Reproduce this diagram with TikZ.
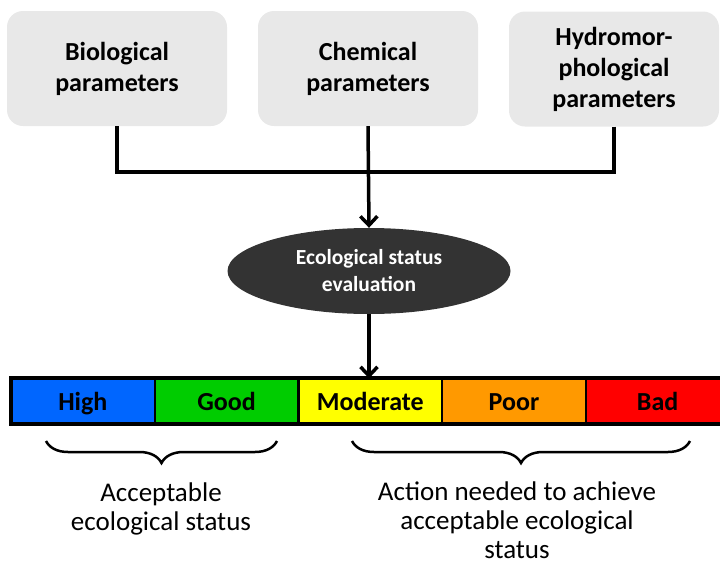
\documentclass[tikz,border=0pt]{standalone}
\usepackage{fontspec}
\setmainfont{Carlito}
\usetikzlibrary{shapes.geometric,arrows.meta,decorations.pathreplacing,positioning}
\definecolor{boxgray}{RGB}{232,232,232}
\definecolor{ellgray}{RGB}{51,51,51}
\definecolor{cHigh}{RGB}{0,102,255}
\definecolor{cGood}{RGB}{0,204,0}
\definecolor{cMod}{RGB}{255,255,0}
\definecolor{cPoor}{RGB}{255,153,0}
\definecolor{cBad}{RGB}{255,0,0}
\tikzset{
  parambox/.style={fill=boxgray, rounded corners=16pt, minimum width=220pt, minimum height=115pt, inner sep=0pt, align=center, font=\fontsize{26}{31}\selectfont\bfseries},
  conn/.style={line width=3.5pt},
  arr/.style={line width=3.5pt, -{Straight Barb[length=9pt,width=17pt,line width=3.5pt]}},
  seg/.style={draw=black, line width=1.2pt, minimum width=142.5pt, minimum height=44pt, inner sep=0pt, text height=22pt, text depth=4pt, anchor=west, font=\fontsize{26}{30}\selectfont\bfseries},
  bracestyle/.style={line width=2.5pt, decorate, decoration={brace, mirror, amplitude=22pt}},
  note/.style={align=center, inner sep=0pt, font=\fontsize{27}{29}\selectfont}
}
\begin{document}
\begin{tikzpicture}[x=1pt,y=-1pt]
\useasboundingbox (0,0) rectangle (720,563);
\node[parambox] (b1) at (117,68.5) {Biological\\parameters};
\node[parambox] (b2) at (368,68.5) {Chemical\\parameters};
\node[parambox, minimum width=210pt] (b3) at (614,69) {Hydromor-\\phological\\parameters};
\coordinate (j) at (368,172);
\draw[conn] (b1.south) |- (j);
\draw[conn] (b3.south) |- (j);
\node[ellipse, fill=ellgray, minimum width=283pt, minimum height=86pt, inner sep=0pt, align=center, text=white, font=\fontsize{21.5}{27}\selectfont\bfseries] (ev) at (369,271) {Ecological status\\evaluation};
\draw[arr] (b2.south) -- (ev.north);
\node[seg, fill=cHigh] (s1) at (11,401) {High};
\node[seg, fill=cGood] (s2) at (s1.east) {Good};
\node[seg, fill=cMod] (s3) at (s2.east) {Moderate};
\node[seg, fill=cPoor] (s4) at (s3.east) {Poor};
\node[seg, fill=cBad] (s5) at (s4.east) {Bad};
\draw[line width=4pt] (s1.north west) rectangle (s5.south east);
\draw[arr] (ev.south) -- (ev.south |- s3.north);
\coordinate (l1) at (46,441);
\coordinate (l2) at (277,441);
\coordinate (r1) at (352,441);
\coordinate (r2) at (690,441);
\draw[bracestyle] (l1) -- (l2);
\draw[bracestyle] (r1) -- (r2);
\node[note] (t1) at (161,509) {Acceptable\\ecological status};
\node[note] (t2) at (517,520) {Action needed to achieve\\acceptable ecological\\status};
\end{tikzpicture}
\end{document}
